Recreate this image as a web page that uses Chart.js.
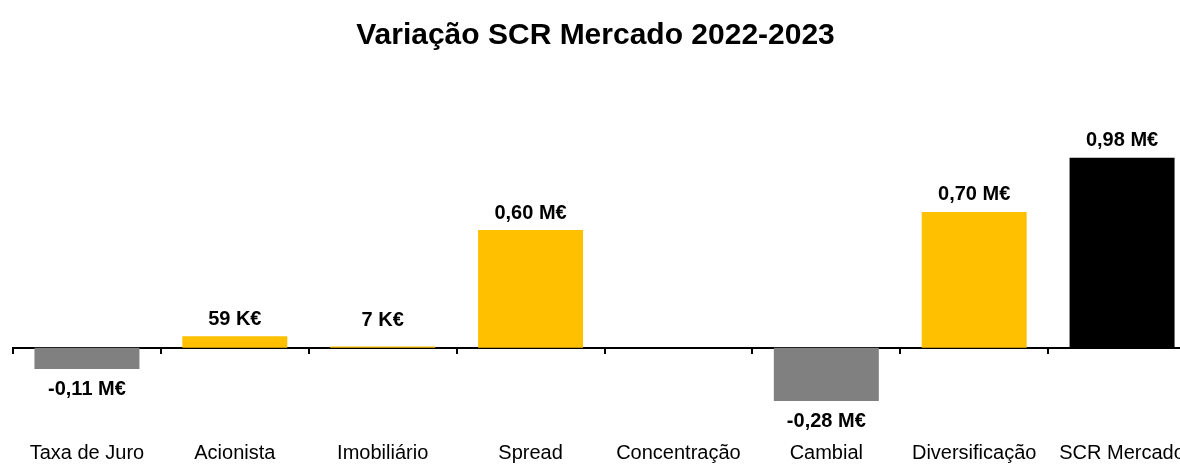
<!DOCTYPE html>
<html><head><meta charset="utf-8">
<script src="https://cdn.jsdelivr.net/npm/chart.js@4.4.0/dist/chart.umd.min.js"></script>
<style>
html,body{margin:0;padding:0;background:#fff;overflow:hidden;width:1180px;height:464px;}
#wrap{position:absolute;left:-5px;top:0;width:1201px;height:469px;}
</style></head><body>
<div id="wrap"><canvas id="c"></canvas></div>
<script>
const chartTitle = "Variação SCR Mercado 2022-2023";
const categories = ["Taxa de Juro","Acionista","Imobiliário","Spread","Concentração","Cambial","Diversificação","SCR Mercado"];
const values = [-0.11, 0.059, 0.007, 0.607, 0, -0.275, 0.70, 0.98]; // M€
const valueLabels = ["-0,11 M€","59 K€","7 K€","0,60 M€","","-0,28 M€","0,70 M€","0,98 M€"];
const barColors = ["#808080","#FFC000","#FFC000","#FFC000","#FFC000","#808080","#FFC000","#000000"];

const FONT = "'Liberation Sans',Arial,sans-serif";

const valueLabelPlugin = {
  id: 'valueLabels',
  afterDatasetsDraw(chart) {
    const ctx = chart.ctx;
    const meta = chart.getDatasetMeta(0);
    ctx.save();
    ctx.font = "bold 20px " + FONT;
    ctx.fillStyle = '#000';
    ctx.textAlign = 'center';
    ctx.textBaseline = 'alphabetic';
    meta.data.forEach((bar, i) => {
      const t = valueLabels[i];
      if (!t) return;
      if (values[i] >= 0) ctx.fillText(t, bar.x, Math.min(bar.y - 11.5, bar.base - 22));
      else ctx.fillText(t, bar.x, bar.y + 26);
    });
    ctx.restore();
  }
};

new Chart(document.getElementById('c'), {
  type: 'bar',
  data: {
    labels: categories,
    datasets: [{
      data: values,
      backgroundColor: barColors,
      borderWidth: 0,
      barPercentage: 0.71,
      categoryPercentage: 1.0
    }]
  },
  options: {
    responsive: true,
    maintainAspectRatio: false,
    animation: false,
    layout: { padding: 0 },
    plugins: {
      legend: { display: false },
      tooltip: { enabled: false },
      title: {
        display: true,
        text: chartTitle,
        color: '#000',
        font: { family: FONT, size: 30, weight: 'bold', lineHeight: 1.2 },
        padding: { top: 18, bottom: 61 }
      }
    },
    scales: {
      x: {
        position: 'bottom',
        grid: { display: false, drawTicks: false },
        border: { display: false },
        ticks: { color: '#000', font: { family: FONT, size: 20, lineHeight: 1.2 }, padding: 4, maxRotation: 0, autoSkip: false }
      },
      x0: {
        type: 'category',
        position: { y: 0 },
        offset: true,
        grid: { offset: true, drawOnChartArea: false, drawTicks: true, tickLength: 5, color: '#000', lineWidth: 2 },
        border: { display: true, color: '#000', width: 2 },
        ticks: { display: false }
      },
      y: {
        min: -0.46,
        max: 1.2,
        grid: { display: false, drawTicks: false },
        border: { display: false },
        ticks: { display: false },
        afterFit(scale) { scale.width = 18; }
      }
    }
  },
  plugins: [valueLabelPlugin]
});
</script>
</body></html>
